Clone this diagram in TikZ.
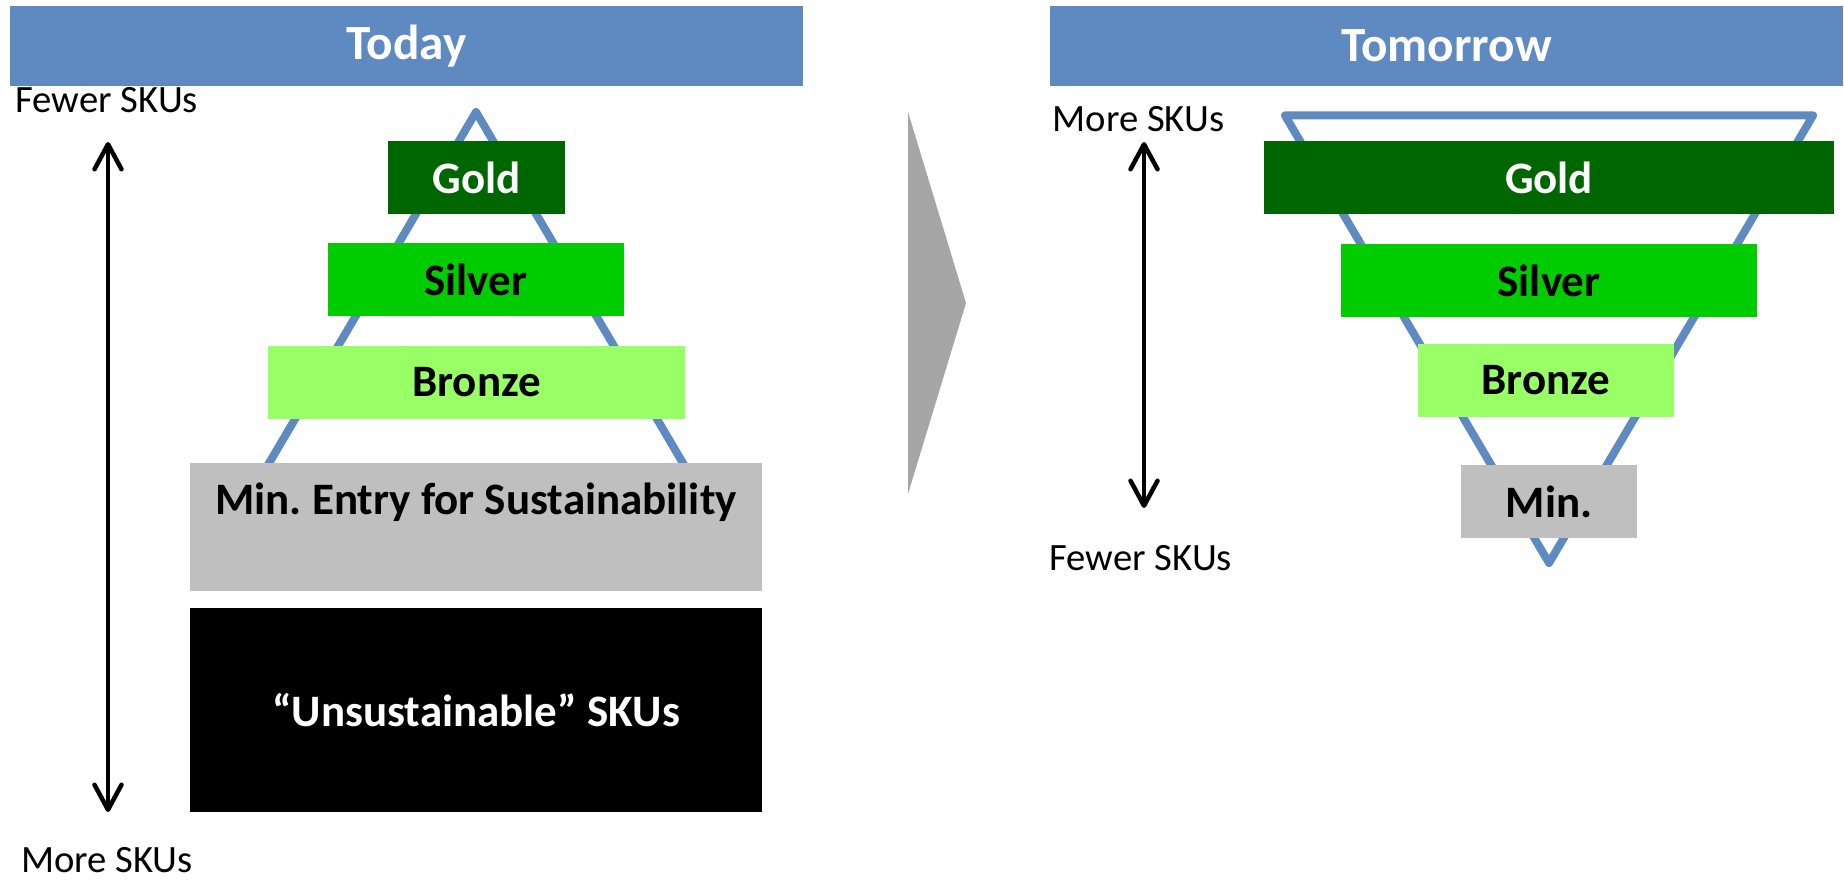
\documentclass[tikz,border=0pt]{standalone}
\usepackage{fontspec}
\setmainfont{Carlito}
\frenchspacing
\usetikzlibrary{arrows.meta}
\definecolor{bleu}{RGB}{94,137,193}
\definecolor{vertor}{RGB}{0,102,0}
\definecolor{vertargent}{RGB}{0,204,0}
\definecolor{vertbronze}{RGB}{153,255,102}
\definecolor{grismin}{RGB}{191,191,191}
\definecolor{grisfleche}{RGB}{166,166,166}

\begin{document}
\begin{tikzpicture}[x=0.1mm,y=-0.1mm]
\tikzset{
  bandeau/.style={fill=bleu, text=white, font=\fontsize{14}{16}\selectfont\bfseries,
    minimum width=79.3mm, minimum height=8mm, inner sep=0pt},
  palier/.style={inner sep=0pt, minimum height=7.3mm, font=\fontsize{12.8}{15}\selectfont\bfseries},
  cote/.style={inner sep=0pt, anchor=base west, font=\fontsize{11}{13}\selectfont},
  fleche/.style={line width=0.45mm,
    {Straight Barb[length=2.5mm,width=2.7mm,round]}-{Straight Barb[length=2.5mm,width=2.7mm,round]}},
  pyramide/.style={draw=bleu, line width=0.8mm, line join=round}
}
\useasboundingbox (0,0) rectangle (1844,880);

 % les bandeaux
  \node[bandeau] (aujTitre) at (406.5,46) {Today};
  \node[bandeau] (demTitre) at (1446.5,46) {Tomorrow};

 % les triangles, sous les paliers
  \draw[pyramide] (476,112) -- (743,565) -- (209,565) -- cycle;
  \draw[pyramide] (1285,115.5) -- (1813,115.5) -- (1549,563) -- cycle;

 % la fleche du milieu
  \fill[grisfleche] (908,112) -- (966,303) -- (908,494) -- cycle;

 % paliers d'aujourd'hui
  \node[palier, fill=vertor, text=white, minimum width=17.7mm] (aujOr) at (476.5,177.5) {Gold};
  \node[palier, fill=vertargent, minimum width=29.6mm] (aujArgent) at (476,279.5) {Silver};
  \node[palier, fill=vertbronze, minimum width=41.7mm] (aujBronze) at (476.5,382.5) {Bronze};
  \node[palier, fill=grismin, minimum width=57.2mm, minimum height=12.8mm] (aujMin) at (476,527) {};
  \node[palier, anchor=base] (aujMinTxt) at (476,514) {Min. Entry for Sustainability};
  \node[palier, fill=black, text=white, minimum width=57.2mm, minimum height=20.4mm] (aujHors) at (476,710) {“Unsustainable” SKUs};

 % paliers de demain
  \node[palier, fill=vertor, text=white, minimum width=57mm] (demOr) at (1549,178) {Gold};
  \node[palier, fill=vertargent, minimum width=41.6mm] (demArgent) at (1549,280.5) {Silver};
  \node[palier, fill=vertbronze, minimum width=25.6mm] (demBronze) at (1546,380) {Bronze};
  \node[palier, fill=grismin, minimum width=17.65mm] (demMin) at (1549,501.5) {Min.};

% du texte et les fleches
  \node[cote] (aujHaut) at (15,113) {Fewer SKUs};
  \node[cote] (aujBas) at (20.5,872) {More SKUs};
  \node[cote] (demHaut) at (1052,132) {More SKUs};
  \node[cote] (demBas) at (1049,570) {Fewer SKUs};
  \coordinate (aujA) at (108,142);
  \coordinate (aujB) at (108,812);
  \coordinate (demA) at (1144,142);
  \coordinate (demB) at (1144,508);
  \draw[fleche] (aujB) -- (aujA);
  \draw[fleche] (demA) -- (demB);
\end{tikzpicture}
\end{document}
